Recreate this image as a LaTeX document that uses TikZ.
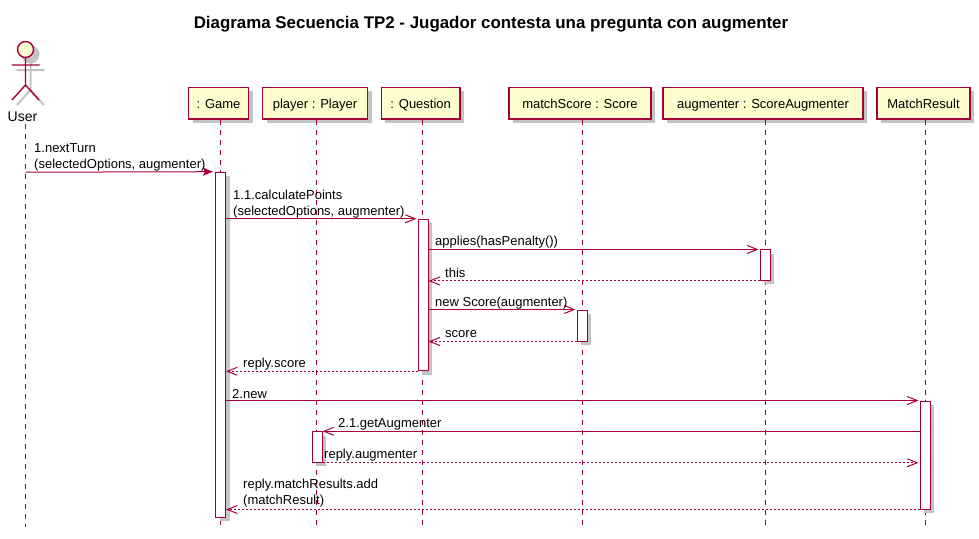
\documentclass[tikz,border=0pt]{standalone}
\usepackage{fontspec}
\setmainfont{Liberation Sans}
\usetikzlibrary{arrows.meta,shadows}
\definecolor{umlline}{HTML}{A80036}
\definecolor{umlfill}{HTML}{FEFECE}
\definecolor{umlshadow}{HTML}{C4C4C4}
\tikzset{
  sdw/.style={general shadow={shadow xshift=4pt,shadow yshift=-4pt,fill=umlshadow}},
  part/.style={draw=umlline,fill=umlfill,line width=1.2pt,sdw,inner sep=0pt,minimum height=31.5pt,text height=14pt,text depth=3pt,font=\fontsize{13}{15}\selectfont},
  act/.style={draw=umlline,fill=white,line width=1pt,sdw,inner sep=0pt,minimum width=10pt},
  life/.style={draw=umlline,line width=1pt,dash pattern=on 5pt off 5pt},
  msg/.style={draw=umlline,line width=1pt,shorten >=1pt,-{Straight Barb[length=10pt,width=8pt,line width=1pt]}},
  msgl/.style={msg,shorten >=0pt},
  msgf/.style={draw=umlline,line width=1pt,shorten >=2pt,-{Stealth[length=10pt,width=8pt,inset=2pt]},umlline},
  ret/.style={msg,dash pattern=on 2pt off 2pt},
  retl/.style={msgl,dash pattern=on 2pt off 2pt},
  lbl/.style={inner sep=0pt,anchor=south west,align=left,text=black,font=\fontsize{13}{15.2}\selectfont},
}
\begin{document}
\begin{tikzpicture}[x=1pt,y=-1pt]
\useasboundingbox (0,0) rectangle (979,538);
\node[inner sep=0pt,font=\bfseries\fontsize{16.9}{20}\selectfont] (title) at (491,24) {Diagrama Secuencia TP2 - Jugador contesta una pregunta con augmenter};
% actor shadow
\begin{scope}[shift={(5,5)},umlshadow,line width=2pt]
\draw[fill=umlshadow] (25.5,49.5) circle (8);
\draw (25.5,57.5) -- (25.5,85) (11.5,65) -- (39.5,65) (25.5,85) -- (12,100) (25.5,85) -- (39,100);
\end{scope}
% actor
\node[draw=umlline,fill=umlfill,line width=1.4pt,circle,minimum size=16pt,inner sep=0pt] (head) at (25.5,49.5) {};
\coordinate (hip) at (25.5,85);
\coordinate (shl) at (11.5,65);
\coordinate (shr) at (39.5,65);
\coordinate (legl) at (12,100);
\coordinate (legr) at (39,100);
\draw[umlline,line width=1.4pt] (head.south) -- (hip) (shl) -- (shr) (legl) -- (hip) -- (legr);
\node[inner sep=0pt,font=\fontsize{14}{16}\selectfont,text=black] (user) at (22.5,116.5) {User};
% participants
\node[part,minimum width=60pt] (game) at (218.5,103.2) {: Game};
\node[part,minimum width=105pt] (player) at (315,103.2) {player : Player};
\node[part,minimum width=78.5pt] (question) at (420.7,103.2) {: Question};
\node[part,minimum width=142pt] (score) at (580,103.2) {matchScore : Score};
\node[part,minimum width=200pt] (augm) at (763,103.2) {augmenter : ScoreAugmenter};
\node[part,minimum width=93pt] (match) at (923.5,103.2) {MatchResult};
% lifeline ends
\coordinate (uend) at (25.5,527);
\coordinate (gend) at (220.5,527);
\coordinate (pend) at (316.5,527);
\coordinate (qend) at (422.5,527);
\coordinate (send) at (582.5,527);
\coordinate (aend) at (765.5,527);
\coordinate (mend) at (925.5,527);
\draw[life] (25.5,124) -- (uend);
\draw[life] (gend |- game.south) -- (gend);
\draw[life] (pend |- player.south) -- (pend);
\draw[life] (qend |- question.south) -- (qend);
\draw[life] (send |- score.south) -- (send);
\draw[life] (aend |- augm.south) -- (aend);
\draw[life] (mend |- match.south) -- (mend);
% activations
\node[act,minimum height=345pt] (agame) at (220.5,344.7) {};
\node[act,minimum height=151.5pt] (aq) at (423,295) {};
\node[act,minimum height=30.5pt] (aa) at (765,265.2) {};
\node[act,minimum height=31pt] (as) at (582,325.5) {};
\node[act,minimum height=30.5pt] (ap) at (317,447) {};
\node[act,minimum height=108pt] (am) at (925,455) {};
% user anchor
\coordinate (ustart) at (25.5,172.2);
% messages
\draw[msgf] (ustart) -- (agame.north west);
\node[lbl] (m1) at (34,171) {1.nextTurn\\(selectedOptions, augmenter)};
\draw[msg] (agame.east |- aq.north) -- (aq.north west);
\node[lbl] (m2) at (233,218) {1.1.calculatePoints\\(selectedOptions, augmenter)};
\draw[msg] (aq.east |- aa.north) -- (aa.north west);
\node[lbl] (m3) at (435,248) {applies(hasPenalty())};
\draw[retl] (aa.south west) -- (aq.east |- aa.south);
\node[lbl] (m4) at (445,278) {this};
\draw[msg] (aq.east |- as.north) -- (as.north west);
\node[lbl] (m5) at (435,309) {new Score(augmenter)};
\draw[retl] (as.south west) -- (aq.east |- as.south);
\node[lbl] (m6) at (445,338) {score};
\draw[retl] (aq.south west) -- (agame.east |- aq.south);
\node[lbl] (m7) at (243,370) {reply.score};
\draw[msg] (agame.east |- am.north) -- (am.north west);
\node[lbl] (m8) at (232,399) {2.new};
\draw[msgl] (am.west |- ap.north) -- (ap.north east);
\node[lbl] (m9) at (338,430) {2.1.getAugmenter};
\draw[ret] (ap.south east) -- (am.west |- ap.south);
\node[lbl] (m10) at (324,461) {reply.augmenter};
\draw[retl] (am.south west) -- (agame.east |- am.south);
\node[lbl] (m11) at (243,507) {reply.matchResults.add\\(matchResult)};
\end{tikzpicture}
\end{document}
